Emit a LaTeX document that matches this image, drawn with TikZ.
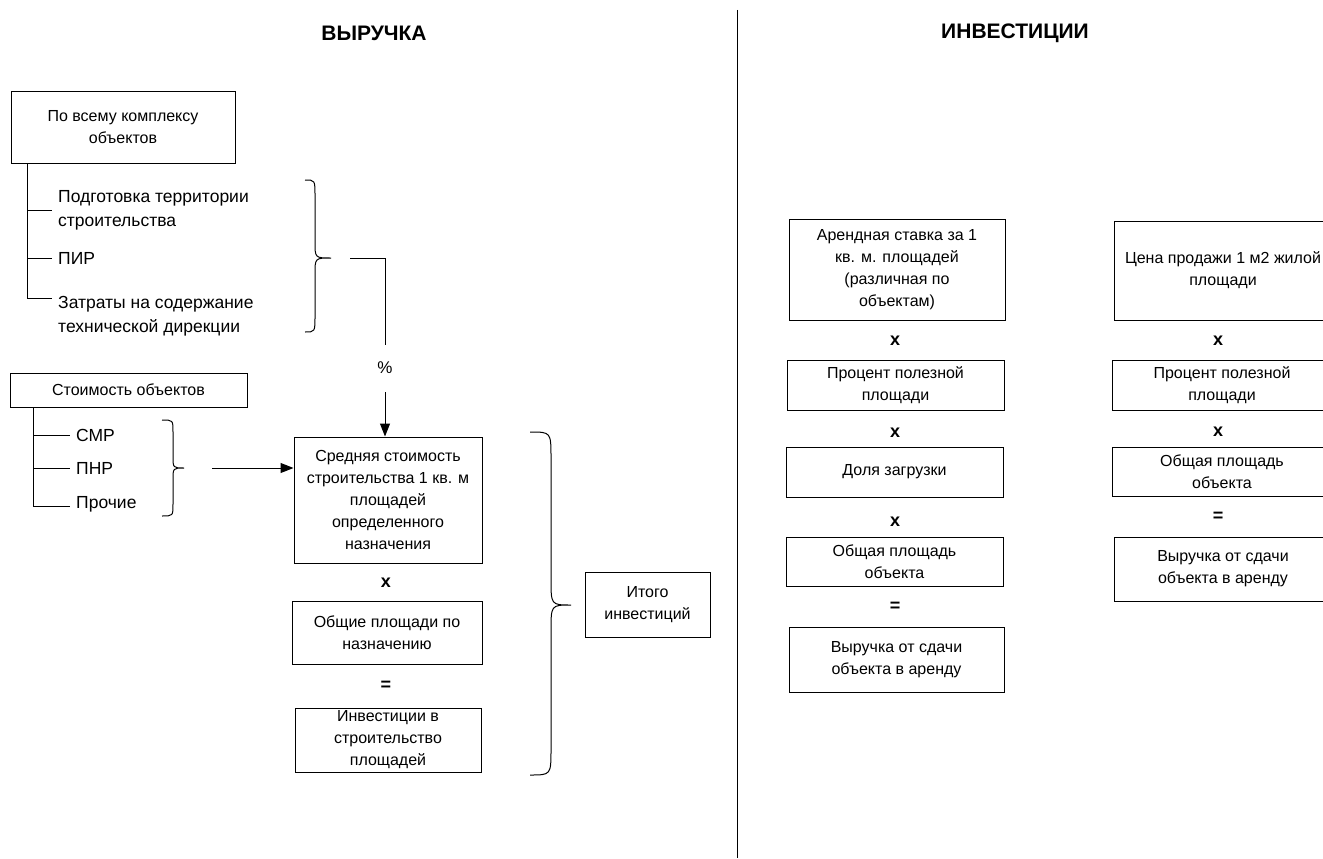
\documentclass[tikz,border=0pt]{standalone}
\usepackage{fontspec}
\setmainfont{Liberation Sans}
\usetikzlibrary{arrows.meta,calc}
\newcommand{\mybrace}[7]{% x0, ytop, ybot, xv, xtip, ytip, r
  \draw[ln] (#1,#2) .. controls (#4,#2) .. (#4,#2+#7) -- (#4,#6-#7)
    .. controls (#4,#6) .. (#5,#6) .. controls (#4,#6) .. (#4,#6+#7)
    -- (#4,#3-#7) .. controls (#4,#3) .. (#1,#3);}
\begin{document}
\begin{tikzpicture}[x=1pt,y=-1pt,
  ln/.style={line width=1pt,draw=black},
  box/.style={draw,line width=1pt,align=center,inner sep=2pt,font=\fontsize{16}{22}\selectfont},
  item/.style={anchor=west,align=left,inner sep=6pt,font=\fontsize{17.5}{24}\selectfont},
  op/.style={font=\bfseries\fontsize{18}{20}\selectfont},
  ttl/.style={font=\bfseries\fontsize{21}{24}\selectfont},
  arr/.style={ln,-{Triangle[length=13pt,width=10pt]}}]
\fill[white] (0,0) rectangle (1323,859);
\useasboundingbox (0,0) rectangle (1323,859);
\clip (0,0) rectangle (1323,859);

% titles and divider
\node[ttl] (t1) at (374,33) {ВЫРУЧКА};
\node[ttl] (t2) at (1015,33) {ИНВЕСТИЦИИ};
\coordinate (d1) at (737,10);
\coordinate (d2) at (737,858);
\draw[ln] (d1) -- (d2);

% left group 1
\node[box,minimum width=224,minimum height=71] (b1) at (123,127.5) {По всему комплексу\\объектов};
\node[item] (i1) at (52,210) {Подготовка территории\\строительства};
\node[item] (i2) at (52,258) {ПИР};
\node[item] (i3) at (52,316) {Затраты на содержание\\технической дирекции};
\coordinate (v1) at (27,163);
\draw[ln] (v1) |- (i1.west);
\draw[ln] (v1) |- (i2.west);
\draw[ln] (v1) |- ($(i3.west)+(0,-18)$);
\mybrace{305}{180}{332}{315}{331}{258}{16}
\coordinate (p1) at (350,258);
\coordinate (p2) at (385,345);
\node[font=\fontsize{17}{20}\selectfont] (pct) at (385,368) {\%};
\draw[ln] (p1) -| (p2);
\coordinate (p3) at (385,392);

% left group 2
\node[box,minimum width=237,minimum height=34] (b2) at (128.5,390) {Стоимость объектов};
\node[item] (j1) at (70,435) {СМР};
\node[item] (j2) at (70,468) {ПНР};
\node[item] (j3) at (70,504) {Прочие};
\coordinate (v2) at (33,407);
\draw[ln] (v2) |- (j1.west);
\draw[ln] (v2) |- (j2.west);
\draw[ln] (v2) |- ($(j3.west)+(0,2)$);
\mybrace{162}{420}{516}{173}{184}{468}{12}
\coordinate (a2) at (212,468);

% central column
\node[box,minimum width=188,minimum height=126] (s1) at (388,500) {Средняя стоимость\\строительства 1 кв. м\\площадей\\определенного\\назначения};
\node[op] (x1) at (386,583) {х};
\node[box,minimum width=190,minimum height=63] (s2) at (387,632.5) {Общие площади по\\назначению};
\node[op] (e1) at (386,686) {=};
\node[box,minimum width=186,minimum height=64] (s3) at (388,740) {Инвестиции в\\строительство\\площадей};
\draw[arr] (p3) -- (p3 |- s1.north);
\draw[arr] (a2) -- (a2 -| s1.west);
\mybrace{530}{432}{775}{551}{571}{605}{26}
\node[box,minimum width=125,minimum height=65] (tot) at (647.5,604.5) {Итого\\инвестиций};

% right column A
\node[box,minimum width=216,minimum height=101] (ra1) at (897,269.5) {Арендная ставка за 1\\кв. м. площадей\\(различная по\\объектам)};
\node[op] (rx1) at (895,341) {х};
\node[box,minimum width=217,minimum height=50] (ra2) at (895.5,385) {Процент полезной\\площади};
\node[op] (rx2) at (895,433) {х};
\node[box,minimum width=217,minimum height=50] (ra3) at (894.5,472) {Доля загрузки};
\node[op] (rx3) at (895,522) {х};
\node[box,minimum width=217,minimum height=49] (ra4) at (894.5,561.5) {Общая площадь\\объекта};
\node[op] (re1) at (895,607) {=};
\node[box,minimum width=215,minimum height=65] (ra5) at (896.5,659.5) {Выручка от сдачи\\объекта в аренду};

% right column B (cut by the right edge)
\node[box,minimum width=218,minimum height=99] (rb1) at (1223,270.5) {Цена продажи 1 м2 жилой\\площади};
\node[op] (ry1) at (1218,341) {х};
\node[box,minimum width=220,minimum height=50] (rb2) at (1222,385) {Процент полезной\\площади};
\node[op] (ry2) at (1218,432) {х};
\node[box,minimum width=220,minimum height=49] (rb3) at (1222,471.5) {Общая площадь\\объекта};
\node[op] (re2) at (1218,517) {=};
\node[box,minimum width=218,minimum height=64] (rb4) at (1223,569) {Выручка от сдачи\\объекта в аренду};
\end{tikzpicture}
\end{document}
